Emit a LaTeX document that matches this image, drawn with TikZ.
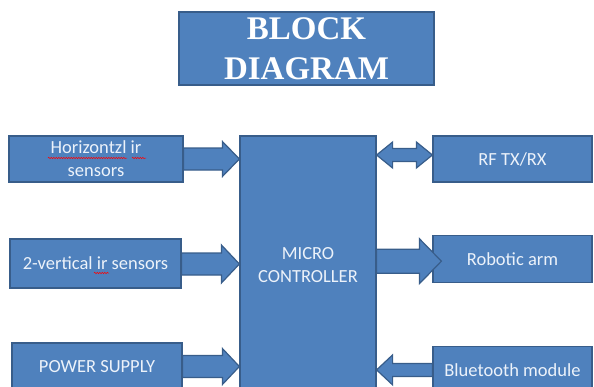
\documentclass[tikz,border=0pt]{standalone}
\usepackage{fontspec}
\setmainfont{Carlito}
\newfontfamily\titlefont{Liberation Serif}
\usetikzlibrary{positioning,calc,decorations.pathmorphing}
\definecolor{blkfill}{RGB}{79,129,189}
\definecolor{blkedge}{RGB}{56,93,138}
\definecolor{blktext}{RGB}{236,242,250}
\tikzset{blk/.style={ % the blue boxes
           draw=blkedge, fill=blkfill, line width=1.2pt,
           text=blktext, align=center, inner sep=0pt,
           font=\fontsize{18.5}{23}\selectfont},
         fat/.style n args={3}{ % block arrow: shaft half, head half, head length
           draw=blkedge, fill=blkfill, line width=1.2pt,
           to path={let \p1=(\tikztostart), \p2=(\tikztotarget), \n1={sign(\x2-\x1)} in
             (\x1,{\y1+#1}) -- ({\x2-\n1*#3},{\y1+#1}) -- ({\x2-\n1*#3},{\y1+#2}) -- (\x2,\y1)
             -- ({\x2-\n1*#3},{\y1-#2}) -- ({\x2-\n1*#3},{\y1-#1}) -- (\x1,{\y1-#1}) -- cycle}},
         dfat/.style n args={3}{ % two-headed block arrow
           draw=blkedge, fill=blkfill, line width=1.2pt,
           to path={let \p1=(\tikztostart), \p2=(\tikztotarget), \n1={sign(\x2-\x1)} in
             (\x1,\y1) -- ({\x1+\n1*#3},{\y1+#2}) -- ({\x1+\n1*#3},{\y1+#1})
             -- ({\x2-\n1*#3},{\y1+#1}) -- ({\x2-\n1*#3},{\y1+#2}) -- (\x2,\y1)
             -- ({\x2-\n1*#3},{\y1-#2}) -- ({\x2-\n1*#3},{\y1-#1})
             -- ({\x1+\n1*#3},{\y1-#1}) -- ({\x1+\n1*#3},{\y1-#2}) -- cycle}},
         spell/.style={draw=red, line width=0.5pt, decorate,
           decoration={snake, amplitude=0.7pt, segment length=2.5pt}}}

\begin{document}
\begin{tikzpicture}[x=1pt, y=-1pt]
  \useasboundingbox (0,0) rectangle (594,386);
  \clip (0,0) rectangle (594,386);

  % title
  \node[blk, minimum width=255pt, minimum height=73pt, text=white,
        font=\titlefont\bfseries\fontsize{33}{40}\selectfont] (title) at (306.5,48.5) {BLOCK\\DIAGRAM};

  % inputs
  \node[blk, minimum width=174pt, minimum height=46pt] (hor) at (96,159) {Horizontzl ir\\sensors};
  \node[blk, minimum width=171pt, minimum height=49pt] (ver) at (95.5,263.5) {2-vertical ir sensors};
  \node[blk, minimum width=170pt, minimum height=47pt] (pow) at (97,366.5) {POWER SUPPLY};

  % controller
  \node[blk, minimum width=136pt, minimum height=258pt] (mc) at (308,265) {MICRO\\CONTROLLER};

  % outputs
  \node[blk, minimum width=159pt, minimum height=46pt] (rf) at (512.5,159) {RF TX/RX};
  \node[blk, minimum width=159pt, minimum height=47pt, below=52pt of rf] (ra) {Robotic arm};
  \node[blk, minimum width=159pt, minimum height=47pt, below=63pt of ra] (bt) {Bluetooth module};

  % spelling marks
  \draw[spell] ($(hor.center)+(-48,-1)$) -- ++(79,0);
  \draw[spell] ($(hor.center)+(36,-1)$) -- ++(14,0);
  \draw[spell] ($(ver.center)+(-1.5,9.5)$) -- ++(15,0);

  % arrows
  \draw[fat={11pt}{17.5pt}{17pt}] (hor.east) to (mc.west |- hor.east);
  \coordinate (verout) at ([yshift=-0.5pt]ver.east);
  \draw[fat={11pt}{19pt}{18pt}] (verout) to (mc.west |- verout);
  \draw[fat={11pt}{18pt}{17pt}] (pow.east) to (mc.west |- pow.east);

  \coordinate (rfin) at ([yshift=4pt]rf.west);
  \draw[dfat={6.5pt}{13pt}{16pt}] (mc.east |- rfin) to (rfin);
  \coordinate (rain) at ([xshift=9pt,yshift=-2.5pt]ra.west);
  \draw[fat={12pt}{22.5pt}{22pt}] (mc.east |- rain) to (rain);
  \draw[fat={6.5pt}{15pt}{16pt}] (bt.west) to (mc.east |- bt.west);
\end{tikzpicture}
\end{document}
